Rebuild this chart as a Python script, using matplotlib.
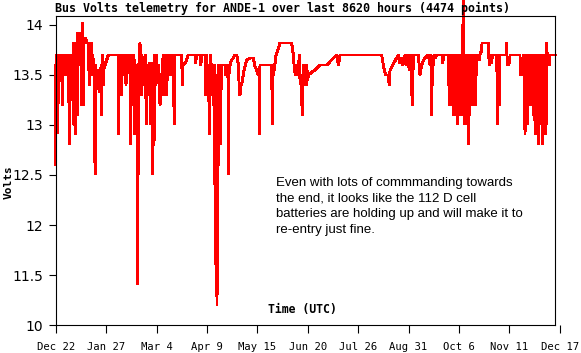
import matplotlib
matplotlib.use("Agg")
import matplotlib.pyplot as plt

# days since Dec 22, voltage readings
days_a = [0.0, 0.0, 0.4, 0.8, 1.5, 1.9, 3.1, 3.5, 4.2, 4.7, 5.0, 5.5, 6.0, 6.6, 7.2, 7.8, 9.2, 9.7, 10.0,
          11.0, 11.4, 11.8, 12.6, 13.0, 13.4, 13.8, 14.2, 15.0, 15.5, 15.8, 16.5, 17.0, 17.4, 17.8, 18.5,
          18.8, 19.2, 19.7, 20.0, 20.9, 21.5, 22.1, 23.3, 24.0, 24.4, 25.7, 26.0, 26.5, 26.9, 27.5, 28.1,
          28.4, 29.3, 29.8, 30.5, 31.2, 31.8, 32.4, 32.8, 33.2, 33.6, 34.0, 34.6, 35.2, 36.4, 37.6]
volts_a = [12.60, 13.60, 12.92, 13.70, 12.92, 13.70, 13.70, 13.62, 13.70, 13.20, 13.70, 13.50, 13.70, 13.60,
           13.50, 13.70, 13.70, 12.81, 13.70, 13.60, 13.50, 13.70, 13.01, 13.82, 13.60, 12.91, 13.82, 13.70,
           13.10, 13.92, 13.70, 13.92, 13.60, 13.92, 13.20, 14.02, 13.85, 13.20, 13.87, 13.82, 13.87, 13.82,
           13.82, 13.40, 13.82, 13.82, 13.50, 13.70, 13.60, 13.60, 12.51, 13.60, 13.45, 13.55, 13.40, 13.33,
           13.40, 13.60, 13.10, 13.70, 13.50, 13.40, 13.60, 13.60, 13.65, 13.70]

days_b = [44.5, 44.7, 45.0, 45.5, 46.0, 46.5, 47.1, 47.4, 48.0, 48.6, 49.2, 49.8, 50.2, 50.6, 51.2, 51.8,
          52.5, 53.1, 53.5, 53.9, 54.5, 55.0, 55.5, 55.9, 56.6, 57.0, 57.5, 58.0, 58.3, 58.6, 59.0, 59.4,
          60.2, 60.5, 61.0, 61.4, 62.0, 62.6, 63.2, 63.8, 64.4, 65.0, 65.4, 66.2, 66.6, 67.4]
volts_b = [13.70, 12.91, 13.70, 13.50, 13.70, 13.60, 13.30, 13.70, 13.50, 13.70, 13.60, 13.70, 13.40, 13.70,
           13.60, 13.70, 13.60, 13.50, 12.81, 13.70, 13.60, 13.70, 13.20, 13.70, 12.91, 13.60, 13.40, 13.60,
           11.41, 13.50, 12.51, 13.60, 13.82, 13.60, 13.30, 13.70, 13.40, 13.60, 13.50, 13.70, 13.30, 13.01,
           13.60, 13.30, 13.60, 13.62]

days_c = [67.8, 68.2, 68.8, 69.3, 69.7, 70.2, 70.6, 71.0, 71.5, 72.0, 72.6, 73.2, 73.8, 74.2, 74.5, 75.0,
          75.6, 76.1, 76.9, 77.3, 77.8, 78.3, 78.8, 79.3, 79.8, 80.5, 81.2, 81.8, 82.3, 82.8, 83.3, 84.0,
          84.3, 84.7, 85.2, 90.0, 90.4, 90.8, 91.2, 92.5, 93.5, 94.7, 97.0, 99.5, 100.0, 100.5, 103.1,
          103.6, 104.5, 106.6, 107.3, 107.8, 108.5, 109.2, 109.7, 110.2, 110.8, 111.4, 111.8, 112.6, 113.0,
          113.3, 113.7, 114.3, 114.6, 115.2, 115.6, 116.2, 116.6, 117.2, 117.8, 118.2, 118.5, 120.9, 121.3,
          121.8, 123.0, 123.3, 123.7, 124.5, 125.5, 126.9, 128.0, 129.3, 130.5, 131.0, 131.6, 132.2, 132.8,
          134.5, 136.5, 138.8]
volts_c = [13.01, 13.62, 13.20, 12.51, 13.62, 12.80, 13.70, 13.60, 13.40, 13.70, 13.50, 13.60, 13.40, 13.30,
           13.20, 13.50, 13.40, 13.60, 13.70, 13.30, 13.60, 13.50, 13.70, 13.30, 13.65, 13.60, 13.70, 13.50,
           13.70, 13.55, 13.70, 13.70, 13.30, 13.01, 13.70, 13.70, 13.40, 13.60, 13.60, 13.62, 13.65, 13.70,
           13.70, 13.70, 13.62, 13.70, 13.70, 13.60, 13.70, 13.70, 13.30, 13.70, 13.40, 13.60, 12.91, 13.60,
           13.70, 13.30, 13.60, 13.20, 13.60, 12.41, 13.60, 11.61, 13.50, 11.20, 13.40, 12.60, 13.60, 13.50,
           12.81, 13.60, 13.60, 13.60, 13.50, 13.60, 13.60, 12.51, 13.50, 13.60, 13.65, 13.67, 13.70, 13.70,
           13.60, 13.40, 13.30, 13.40, 13.40, 13.55, 13.65, 13.67]

days_d = [141.2, 142.0, 143.5, 144.7, 145.2, 145.5, 145.9, 154.3, 154.7, 155.0, 155.5, 156.5, 157.4, 160.2,
          161.4, 168.5, 169.7, 170.5, 171.2, 172.1, 173.0, 174.0, 174.5, 175.2, 175.7, 176.0, 176.4, 176.7,
          177.2, 177.7, 178.2, 178.8, 179.2, 180.0, 180.5, 185.0, 188.8, 193.6, 197.0, 200.7, 201.9, 203.1,
          205.5, 210.2]
volts_d = [13.67, 13.60, 13.55, 13.50, 13.50, 12.91, 13.60, 13.60, 13.01, 13.55, 13.50, 13.60, 13.70, 13.82,
           13.82, 13.82, 13.70, 13.55, 13.50, 13.60, 13.50, 13.70, 13.45, 13.40, 13.20, 13.50, 13.10, 13.60,
           13.40, 13.60, 13.45, 13.40, 13.60, 13.45, 13.50, 13.55, 13.60, 13.60, 13.65, 13.70, 13.60, 13.70,
           13.70, 13.70]

days_e = [232.8, 234.0, 235.5, 236.4, 237.6, 238.2, 238.8, 241.5, 244.7, 245.9, 247.0, 248.0, 249.5, 250.7,
          251.5, 252.5, 253.1, 253.8, 254.3, 254.6, 255.0, 255.3, 259.0, 260.2, 261.4, 263.5, 266.2, 267.4,
          268.0, 268.5, 269.0, 269.7, 270.2, 270.9, 272.1, 276.0, 276.5, 277.0, 280.4, 281.2, 281.6]
volts_e = [13.70, 13.60, 13.50, 13.50, 13.50, 13.40, 13.55, 13.62, 13.70, 13.62, 13.67, 13.60, 13.70, 13.60,
           13.70, 13.55, 13.70, 13.60, 13.30, 13.70, 13.20, 13.70, 13.70, 13.50, 13.60, 13.67, 13.70, 13.60,
           13.70, 13.10, 13.62, 13.60, 13.70, 13.67, 13.70, 13.70, 13.62, 13.70, 13.70, 13.20, 13.70]

days_f = [282.0, 282.4, 282.8, 283.2, 284.0, 284.4, 284.8, 285.2, 285.6, 286.0, 286.4, 286.8, 287.2, 287.6,
          288.0, 288.4, 288.8, 289.2, 289.6, 290.0, 290.4, 291.5, 291.6, 292.0, 292.2, 292.6, 293.0, 293.4,
          293.8, 294.2, 294.7, 295.0, 295.5, 295.9, 296.4, 296.8, 297.2, 297.6, 298.0, 298.4, 298.8, 299.2,
          299.6, 300.0, 300.4, 300.8, 301.9, 302.5, 303.0, 304.3, 304.5, 309.0, 309.3, 309.8, 310.2, 311.4,
          311.8, 315.0, 315.7, 316.1, 316.9, 317.2, 322.0, 322.1, 322.3, 322.6, 323.5, 324.3, 324.5, 331.6,
          332.0, 334.0, 334.3, 335.0, 335.2, 335.5, 336.0, 336.4, 336.8, 337.2, 337.6, 338.0, 338.4, 338.8,
          339.2, 339.6, 340.0, 340.5, 341.0, 341.5, 341.9, 342.4, 342.8, 343.2, 343.6, 344.0, 344.4, 344.7,
          345.0, 345.5, 345.9, 346.4, 346.8, 347.4, 347.8, 348.2, 348.6, 349.0, 349.5, 349.9, 350.3, 350.7,
          351.0, 351.5, 351.9, 352.5, 353.0, 356.9]
volts_f = [13.50, 13.70, 13.20, 13.70, 13.60, 13.10, 13.70, 13.10, 13.70, 13.10, 13.70, 13.01, 13.70, 13.10,
           13.70, 13.10, 13.70, 13.10, 13.70, 13.10, 13.70, 14.40, 13.70, 13.01, 13.70, 13.20, 13.10, 13.70,
           13.01, 13.70, 12.81, 13.70, 13.10, 13.70, 13.30, 13.70, 13.50, 13.70, 13.20, 13.70, 13.40, 13.70,
           13.20, 13.70, 13.50, 13.70, 13.70, 13.65, 13.70, 13.75, 13.82, 13.82, 13.70, 13.60, 13.70, 13.62,
           13.70, 13.70, 13.01, 13.70, 13.20, 13.70, 13.70, 13.82, 13.70, 13.60, 13.60, 13.65, 13.70, 13.70,
           13.50, 13.50, 13.70, 13.20, 12.91, 13.70, 13.10, 13.01, 13.70, 13.01, 13.70, 13.30, 13.70, 13.20,
           13.70, 13.50, 13.70, 13.20, 13.70, 13.10, 13.70, 12.91, 13.70, 13.01, 13.70, 13.10, 13.70, 12.81,
           13.70, 13.10, 13.70, 13.01, 13.70, 13.10, 12.81, 13.70, 13.01, 13.70, 12.91, 13.70, 13.01, 13.82,
           13.70, 13.60, 13.70, 13.60, 13.70, 13.70]

days = days_a + days_b + days_c + days_d + days_e + days_f
volts = volts_a + volts_b + volts_c + volts_d + volts_e + volts_f

xtick_days = [0, 36, 72, 108, 144, 180, 216, 252, 288, 324, 360]
xtick_labels = ["Dec 22", "Jan 27", "Mar 4", "Apr 9", "May 15", "Jun 20",
                "Jul 26", "Aug 31", "Oct 6", "Nov 11", "Dec 17"]
ytick_vals = [11, 11.5, 12, 12.5, 13, 13.5, 14]
ytick_labels = ["10", "11.5", "12", "12.5", "13", "13.5", "14"]
last_day = 356.9

mono = "DejaVu Sans Mono"

fig = plt.figure(figsize=(5.81, 3.53), dpi=100)
ax = fig.add_axes([0.0959, 0.0793, 0.8675, 0.8754])

ax.plot(days, volts, color="#ff0000", linewidth=1.4, clip_on=False, antialiased=False)

ax.set_xlim(0, 360)
ax.set_ylim(11.0, 14.09)
ax.set_xticks(xtick_days)
ax.set_xticklabels(xtick_labels, fontfamily=mono, fontsize=7.6)
ax.set_yticks(ytick_vals)
ax.set_yticklabels(ytick_labels, fontfamily=mono, fontsize=8)
ax.tick_params(axis="x", length=6, width=0.8, pad=6.5)
ax.tick_params(axis="y", length=5, width=0.8, pad=4)

for side in ["top", "bottom"]:
    ax.spines[side].set_bounds(0, last_day)
ax.spines["right"].set_position(("data", last_day))
for sp in ax.spines.values():
    sp.set_linewidth(0.8)

fig.text(55 / 581, 1 - 8 / 353, "Bus Volts telemetry for ANDE-1 over last 8620 hours (4474 points)",
         fontfamily=mono, fontweight="bold", fontsize=8.4, ha="left", va="center")
fig.text(302 / 581, 1 - 310 / 353, "Time (UTC)", fontfamily=mono, fontweight="bold",
         fontsize=8.3, ha="center", va="center")
fig.text(8.5 / 581, 1 - 182 / 353, "Volts", fontfamily=mono, fontweight="bold",
         fontsize=8, ha="center", va="center", rotation=90)

fig.text(276 / 581, 1 - 177 / 353,
         "Even with lots of commmanding towards\nthe end, it looks like the 112 D cell\n"
         "batteries are holding up and will make it to\nre-entry just fine.",
         fontfamily="Liberation Sans", fontsize=9.5, ha="left", va="top", linespacing=1.39)

fig.savefig("out.png", dpi=100)
